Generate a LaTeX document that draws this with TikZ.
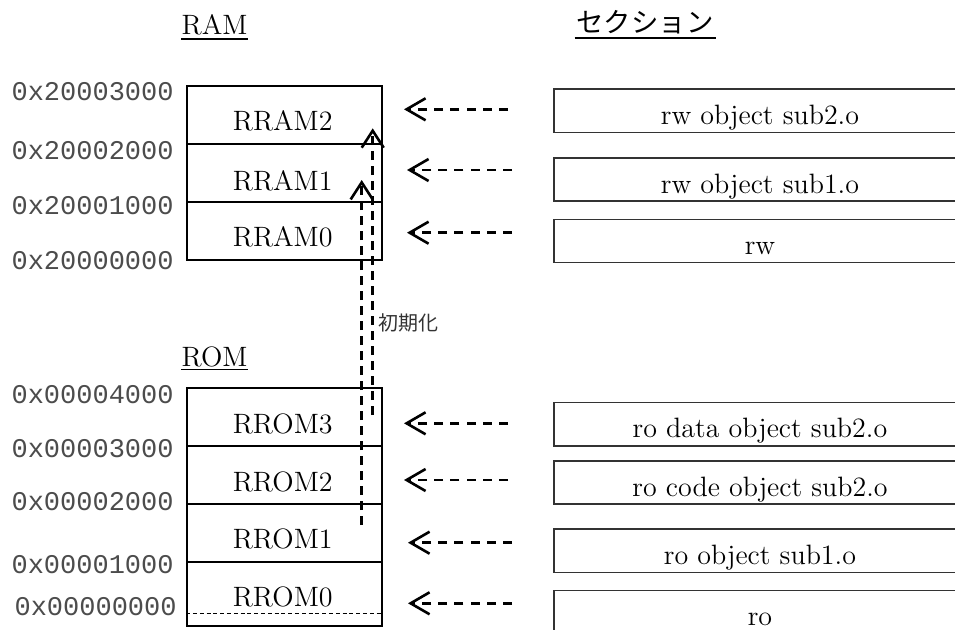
\documentclass[tikz,border=0pt]{standalone}
\usepackage{fontspec}
\newfontfamily\addrfont{Liberation Mono}
\newfontfamily\jpfont{Noto Sans CJK JP}
\usetikzlibrary{arrows.meta,calc}

\begin{document}
\begin{tikzpicture}[x=0.5pt,y=-0.5pt,
  cell/.style={draw, line width=0.85pt, inner sep=0pt, minimum width=97.5pt},
  celltext/.style={anchor=base, inner sep=0pt, font=\fontsize{14pt}{16pt}\selectfont},
  secbox/.style={draw=black!80, line width=0.75pt, inner sep=0pt,
    minimum width=206pt, minimum height=21.6pt},
  sectext/.style={anchor=base, inner sep=0pt, font=\fontsize{14pt}{16pt}\selectfont},
  addr/.style={anchor=east, inner sep=0pt, text=black!70,
    font=\addrfont\fontsize{13.5pt}{15pt}\selectfont},
  title/.style={anchor=base, inner sep=0pt, font=\fontsize{14pt}{16pt}\selectfont},
  uline/.style={line width=0.9pt},
  maparrow/.style={line width=1.3pt, dash pattern=on 4.5pt off 3.6pt,
    -{Straight Barb[length=9.5pt,width=11pt]}},
  initarrow/.style={line width=1.3pt, dash pattern=on 4.5pt off 3pt,
    -{Straight Barb[length=8.5pt,width=11pt]}},
]
\useasboundingbox (0,0) rectangle (955,629);
\clip (0,0) rectangle (955,629);

% headings
\node[title] (ramtitle) at (214.5,34.5) {RAM};
\draw[uline] ($(ramtitle.base west)+(0,4.5)$) -- ($(ramtitle.base east)+(0,4.5)$);
\node[title] (romtitle) at (214.5,366.5) {ROM};
\draw[uline] ($(romtitle.base west)+(0,3)$) -- ($(romtitle.base east)+(0,3)$);
\node[anchor=base, inner sep=0pt, font=\jpfont\fontsize{13.7pt}{15pt}\selectfont]
  (sectitle) at (645,32.5) {セクション};
\draw[line width=1pt] ($(sectitle.base west)+(-1.5,5.2)$) -- ($(sectitle.base east)+(2.5,5.2)$);

% RAM regions
\node[cell, minimum height=29pt] (rram2) at (284.5,115) {};
\node[cell, minimum height=29pt] (rram1) at (284.5,173) {};
\node[cell, minimum height=29pt] (rram0) at (284.5,231) {};
\node[celltext] (trram2) at (282.7,130) {RRAM2};
\node[celltext] (trram1) at (282.7,190) {RRAM1};
\node[celltext] (trram0) at (282.7,246.7) {RRAM0};

% ROM regions
\node[cell, minimum height=29pt] (rrom3) at (284.5,417) {};
\node[cell, minimum height=29pt] (rrom2) at (284.5,475) {};
\node[cell, minimum height=29pt] (rrom1) at (284.5,533) {};
\node[cell, minimum height=32pt] (rrom0) at (284.5,594) {};
\draw[line width=0.55pt, dash pattern=on 2pt off 1.4pt]
  ($(rrom0.south west)+(0,-13)$) -- ($(rrom0.south east)+(0,-13)$);
\node[celltext] (trrom3) at (282.7,433.3) {RROM3};
\node[celltext] (trrom2) at (282.7,491.7) {RROM2};
\node[celltext] (trrom1) at (282.7,548.3) {RROM1};
\node[celltext] (trrom0) at (282.7,606.7) {RROM0};

% addresses
\node[addr] (a2003) at (174,91.7) {0x20003000};
\node[addr] (a2002) at (174,151) {0x20002000};
\node[addr] (a2001) at (174,206) {0x20001000};
\node[addr] (a2000) at (174,260.5) {0x20000000};
\node[addr] (a0004) at (174,395) {0x00004000};
\node[addr] (a0003) at (174,449) {0x00003000};
\node[addr] (a0002) at (174,501.5) {0x00002000};
\node[addr] (a0001) at (174,565) {0x00001000};
\node[addr] (a0000) at (177,606.5) {0x00000000};

% sections
\node[secbox] (srw2) at (760,110.8) {};
\node[secbox] (srw1) at (760,179.4) {};
\node[secbox] (srw0) at (760,241) {};
\node[secbox] (sro3) at (760,424.2) {};
\node[secbox] (sro2) at (760,482.4) {};
\node[secbox] (sro1) at (760,550.8) {};
\node[secbox] (sro0) at (760,612.2) {};
\node[sectext] (tsrw2) at (760,124.3) {rw object sub2.o};
\node[sectext] (tsrw1) at (760,193) {rw object sub1.o};
\node[sectext] (tsrw0) at (760,254.7) {rw};
\node[sectext] (tsro3) at (760,437.7) {ro data object sub2.o};
\node[sectext] (tsro2) at (760,496) {ro code object sub2.o};
\node[sectext] (tsro1) at (760,564.3) {ro object sub1.o};
\node[sectext] (tsro0) at (760,625.7) {ro};

% placement arrows
\coordinate (m2s) at (508,109.3); \coordinate (m2e) at (404,109.3);
\coordinate (m1s) at (512,170);   \coordinate (m1e) at (407,170);
\coordinate (m0s) at (512,232.7); \coordinate (m0e) at (407,232.7);
\coordinate (n3s) at (508,423.3); \coordinate (n3e) at (404,423.3);
\coordinate (n2s) at (508,480);   \coordinate (n2e) at (404,480);
\coordinate (n1s) at (512,542.7); \coordinate (n1e) at (408,542.7);
\coordinate (n0s) at (512,603.3); \coordinate (n0e) at (408,603.3);
\foreach \p in {m2,m1,m0,n3,n2,n1,n0}
  \draw[maparrow] (\p s) -- (\p e);

% initialisation copy
\coordinate (i1s) at (361.7,525); \coordinate (i1e) at (361.7,180);
\coordinate (i2s) at (372.7,415); \coordinate (i2e) at (372.7,128.3);
\draw[initarrow] (i1s) -- (i1e);
\draw[initarrow] (i2s) -- (i2e);
\node[anchor=base west, inner sep=0pt, text=black!80,
  font=\jpfont\fontsize{10pt}{12pt}\selectfont] (init) at (378.5,330.5) {初期化};
\end{tikzpicture}
\end{document}
